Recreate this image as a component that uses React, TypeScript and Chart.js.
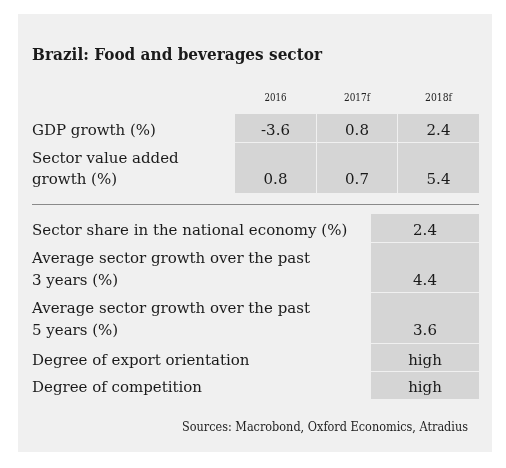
import React, { useEffect, useRef } from "react";
import { Chart, registerables } from "chart.js";

Chart.register(...registerables);

const title = "Brazil: Food and beverages sector";
const years = ["2016", "2017f", "2018f"];
const gdpGrowth = [-3.6, 0.8, 2.4];
const sectorGrowth = [0.8, 0.7, 5.4];
const topLabels = [["GDP growth (%)"], ["Sector value added", "growth (%)"]];
const bottomLabels = [
  ["Sector share in the national economy (%)"],
  ["Average sector growth over the past", "3 years (%)"],
  ["Average sector growth over the past", "5 years (%)"],
  ["Degree of export orientation"],
  ["Degree of competition"],
];
const bottomValues = ["2.4", "4.4", "3.6", "high", "high"];
const source = "Sources: Macrobond, Oxford Economics, Atradius";

const SERIF = "'DejaVu Serif', 'Liberation Serif', serif";

const tablePlugin = {
  id: "tableDraw",
  afterDraw(chart: any) {
    const ctx = chart.ctx as CanvasRenderingContext2D;
    const xs = chart.scales.x;
    const ys = chart.scales.y;
    const X = (v: number) => xs.getPixelForValue(v);
    const Y = (v: number) => ys.getPixelForValue(v);
    const rect = (x0: number, y0: number, x1: number, y1: number, c: string) => {
      ctx.fillStyle = c;
      ctx.fillRect(X(x0), Y(y0), X(x1) - X(x0), Y(y1) - Y(y0));
    };
    const fitText = (t: string, x: number, y: number, w: number, align: CanvasTextAlign) => {
      const m = ctx.measureText(t).width;
      const s = w / m;
      ctx.save();
      ctx.translate(X(x), Y(y));
      ctx.scale(s, 1);
      ctx.textAlign = align;
      ctx.fillText(t, 0, 0);
      ctx.restore();
    };
    ctx.save();
    // panel
    rect(18, 14, 492, 452, "#f0f0f0");
    ctx.fillStyle = "#1a1a1a";
    ctx.textBaseline = "alphabetic";
    // title
    ctx.font = `bold 17px ${SERIF}`;
    fitText(title, 32, 60, 290, "left");

    // header years
    const colL = [235, 317, 398];
    const colR = [316, 397, 479];
    const yearW = [22, 26, 27];
    ctx.font = `11px ${SERIF}`;
    ctx.fillStyle = "#222";
    years.forEach((yr, i) => {
      fitText(yr, (colL[i] + colR[i]) / 2, 101, yearW[i], "center");
    });

    // top table cells
    const topRows = [
      [114, 142],
      [143, 193],
    ];
    const topVals = [gdpGrowth, sectorGrowth];
    topRows.forEach((r) => {
      colL.forEach((cl, ci) => rect(cl, r[0], colR[ci], r[1], "#d5d5d5"));
    });
    ctx.font = `15px ${SERIF}`;
    ctx.fillStyle = "#1a1a1a";
    const topBase = [[135], [163, 184]];
    topLabels.forEach((lines, ri) => {
      lines.forEach((ln, li) => {
        ctx.textAlign = "left";
        ctx.fillText(ln, X(32), Y(topBase[ri][li]));
      });
      const vb = topBase[ri][topBase[ri].length - 1];
      topVals[ri].forEach((v, ci) => {
        ctx.textAlign = "center";
        ctx.fillText(v.toFixed(1), (X(colL[ci]) + X(colR[ci])) / 2, Y(vb));
      });
    });

    // separator
    ctx.strokeStyle = "#8a8a8a";
    ctx.lineWidth = 1;
    ctx.beginPath();
    ctx.moveTo(X(32), Y(204) + 0.5);
    ctx.lineTo(X(479), Y(204) + 0.5);
    ctx.stroke();

    // bottom table
    const bRows = [
      [214, 242],
      [243, 292],
      [293, 343],
      [344, 371],
      [372, 399],
    ];
    const bBase = [[235], [263, 285], [313, 335], [365], [392]];
    bRows.forEach((r) => rect(371, r[0], 479, r[1], "#d5d5d5"));
    ctx.fillStyle = "#1a1a1a";
    bottomLabels.forEach((lines, ri) => {
      lines.forEach((ln, li) => {
        ctx.textAlign = "left";
        ctx.fillText(ln, X(32), Y(bBase[ri][li]));
      });
      const vb = bBase[ri][bBase[ri].length - 1];
      ctx.textAlign = "center";
      ctx.fillText(bottomValues[ri], (X(371) + X(479)) / 2, Y(vb));
    });

    // source
    ctx.font = `12px ${SERIF}`;
    ctx.fillStyle = "#222";
    fitText(source, 468, 431, 286, "right");
    ctx.restore();
  },
};

export default function App() {
  const ref = useRef<HTMLCanvasElement | null>(null);
  useEffect(() => {
    if (!ref.current) return;
    const chart = new Chart(ref.current, {
      type: "scatter",
      data: { datasets: [{ data: [], pointRadius: 0 }] },
      options: {
        animation: false,
        responsive: false,
        devicePixelRatio: 1,
        layout: { padding: 0 },
        plugins: { legend: { display: false }, tooltip: { enabled: false } },
        scales: {
          x: { type: "linear", min: 0, max: 506, display: false },
          y: { type: "linear", min: 0, max: 468, reverse: true, display: false },
        },
      },
      plugins: [tablePlugin],
    });
    return () => chart.destroy();
  }, []);
  return (
    <div style={{ position: "absolute", left: 0, top: 0, width: 506, height: 468, background: "#fff" }}>
      <canvas ref={ref} width={506} height={468} style={{ display: "block" }} />
    </div>
  );
}
